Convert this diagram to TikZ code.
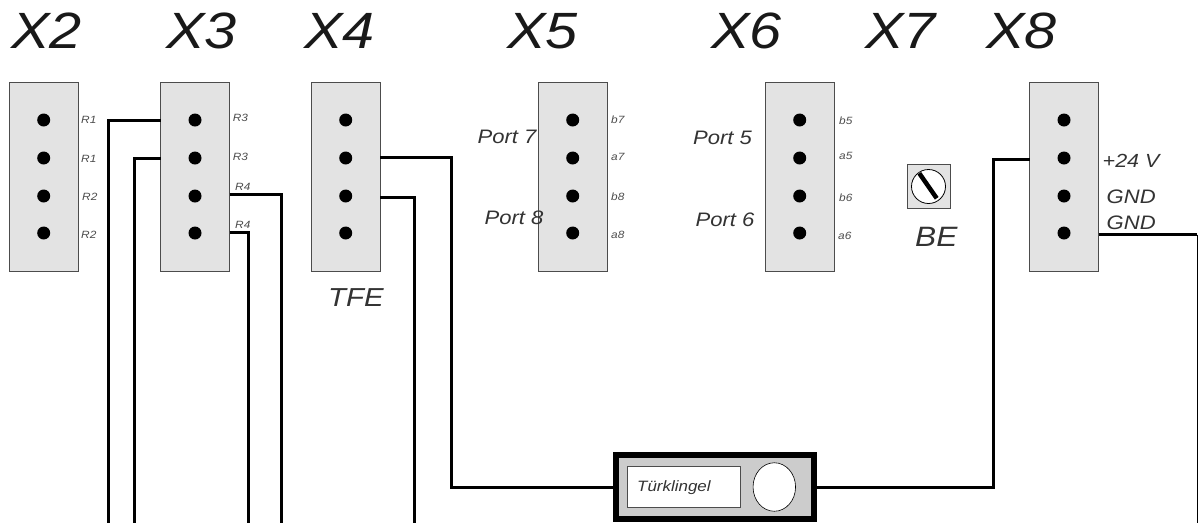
\documentclass[tikz,border=0pt]{standalone}
\usepackage{fontspec}
\usetikzlibrary{shapes.geometric}
\setmainfont[FakeStretch=1.13]{Liberation Sans}
\tikzset{
 conn/.style={draw=black!70,fill=black!11,line width=0.9pt,minimum width=69pt,minimum height=189pt,inner sep=0pt,outer sep=0pt,anchor=north west},
 pin/.style={circle,fill=black,minimum size=13pt,inner sep=0pt},
 wire/.style={draw=black,line width=3pt,line join=miter},
 txt/.style={inner sep=0pt,anchor=base west,text=black!80},
 title/.style={txt,font=\fontsize{51}{51}\selectfont\itshape,text=black!90},
 lab/.style={txt,font=\fontsize{26}{26}\selectfont\itshape},
 mid/.style={txt,font=\fontsize{19.5}{20}\selectfont\itshape},
 tiny/.style={txt,font=\fontsize{10.5}{10.5}\selectfont\itshape,text=black!70},
}
\begin{document}
\begin{tikzpicture}[x=1pt,y=-1pt]
\useasboundingbox (0,0) rectangle (1198,523);
% connectors
\node[conn] (X2) at (9,82) {};
\node[conn] (X3) at (160.5,82) {};
\node[conn] (X4) at (311,82) {};
\node[conn] (X5) at (538,82) {};
\node[conn] (X6) at (765,82) {};
\node[conn] (X8) at (1029.5,82) {};
\foreach \n/\x in {X2/43.7,X3/195,X4/345.7,X5/572.7,X6/799.7,X8/1064}{
  \foreach \i/\y in {1/120,2/158,3/196,4/233}{
    \node[pin] (\n p\i) at (\x,\y) {};
  }
}
% titles
\node[title] (tX2) at (11,48) {X2};
\node[title] (tX3) at (166,48) {X3};
\node[title] (tX4) at (304,48) {X4};
\node[title] (tX5) at (507,48) {X5};
\node[title] (tX6) at (711,48) {X6};
\node[title] (tX7) at (865,48) {X7};
\node[title] (tX8) at (986,48) {X8};
% pin labels
\node[tiny] (l1) at (81,123.3) {R1};
\node[tiny] (l2) at (81,162) {R1};
\node[tiny] (l3) at (82,200) {R2};
\node[tiny] (l4) at (81,238.7) {R2};
\node[tiny] (l5) at (232.7,121.7) {R3};
\node[tiny] (l6) at (232.7,160) {R3};
\node[tiny] (l7) at (235,190) {R4};
\node[tiny] (l8) at (235,228) {R4};
\node[tiny] (l9) at (611,123.3) {b7};
\node[tiny] (l10) at (611,160) {a7};
\node[tiny] (l11) at (611,200) {b8};
\node[tiny] (l12) at (611,238.3) {a8};
\node[tiny] (l13) at (839,124.3) {b5};
\node[tiny] (l14) at (839,159.3) {a5};
\node[tiny] (l15) at (839,201) {b6};
\node[tiny] (l16) at (838,239) {a6};
\node[mid] (p7) at (477.5,143.3) {Port 7};
\node[mid] (p8) at (484.5,224.3) {Port 8};
\node[mid] (p5) at (693,144.5) {Port 5};
\node[mid] (p6) at (695.5,226.7) {Port 6};
\node[mid,font=\fontsize{19}{20}\selectfont\itshape] (v24) at (1102.5,167.7) {+24 V};
\node[mid] (gnd1) at (1106.5,203.3) {GND};
\node[mid] (gnd2) at (1106.5,229) {GND};
\node[lab] (TFE) at (328,306.7) {TFE};
\node[lab,font=\fontsize{28}{28}\selectfont\itshape] (BE) at (915,246.7) {BE};
% switch
\node[draw=black!70,fill=black!11,line width=0.9pt,minimum size=43.5pt,inner sep=0pt] (sw) at (928.7,186.5) {};
\node[draw=black,fill=white,circle,line width=0.8pt,minimum size=34pt,inner sep=0pt] (knob) at (928.5,186.5) {};
\coordinate (k1) at (919.3,173.3);
\coordinate (k2) at (936.7,198.3);
\draw[line width=4.5pt] (k1) -- (k2);
% bell
\node[draw=black,fill=black!20,line width=6pt,minimum width=198pt,minimum height=64.5pt,inner sep=0pt] (bell) at (715.3,487) {};
\node[draw=black!70,fill=white,line width=0.9pt,minimum width=113pt,minimum height=41pt,inner sep=0pt] (bl) at (683.5,486.5) {};
\node[txt,font=\fontsize{15}{15}\selectfont\itshape] (bltxt) at (637,491) {Türklingel};
\node[draw=black,fill=white,ellipse,line width=0.6pt,minimum width=42.5pt,minimum height=48.5pt,inner sep=0pt] (bo) at (774.3,487) {};
% free ends and terminals
\coordinate (a1) at (160.5,120.5);
\coordinate (a2) at (160.5,158);
\coordinate (a3) at (229.5,194.5);
\coordinate (a4) at (229.5,232.5);
\coordinate (a5) at (380,157);
\coordinate (a6) at (380,197);
\coordinate (a7) at (1029.5,159);
\coordinate (a8) at (1098.5,234.5);
\coordinate (e1) at (108,523);
\coordinate (e2) at (134.5,523);
\coordinate (e3) at (281,523);
\coordinate (e4) at (248,523);
\coordinate (e5) at (414,523);
\coordinate (e8) at (1197,523);
\coordinate (c5) at (451,487);
\coordinate (c7) at (993,487);
\draw[wire] (a1) -| (e1);
\draw[wire] (a2) -| (e2);
\draw[wire] (a3) -| (e3);
\draw[wire] (a4) -| (e4);
\draw[wire] (a5) -| (c5) -- (bell.west);
\draw[wire] (a6) -| (e5);
\draw[wire] (bell.east) -- (c7) |- (a7);
\draw[wire] (a8) -- (e8 |- a8);
\draw[black,line width=1pt] (e8 |- a8) -- (e8);
\end{tikzpicture}
\end{document}
